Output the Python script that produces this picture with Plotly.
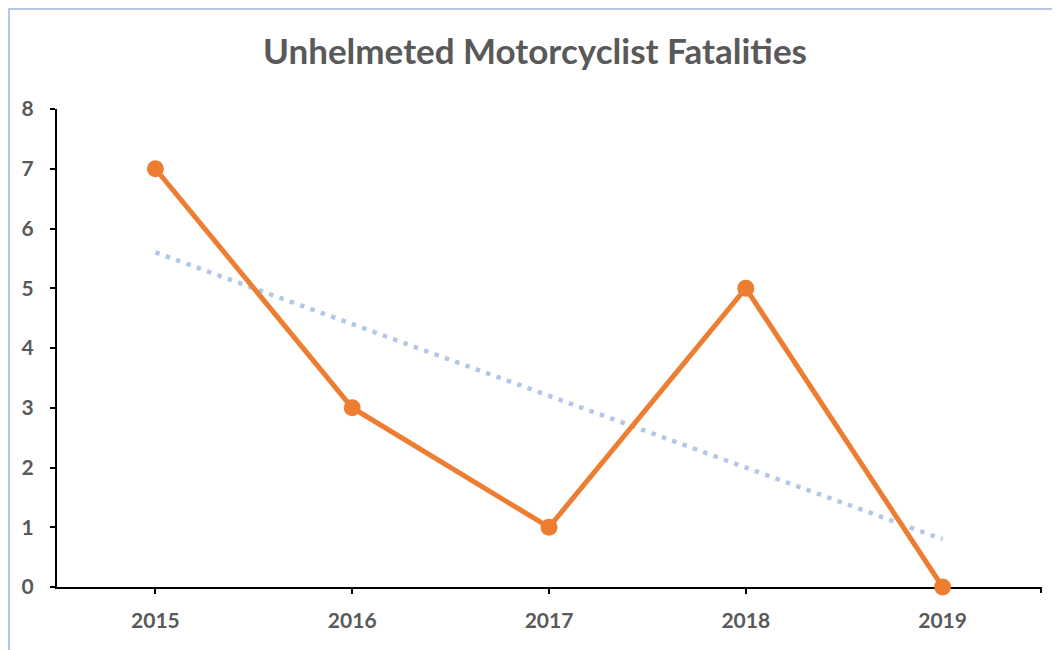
import numpy as np
import plotly.graph_objects as go

years = ["2015", "2016", "2017", "2018", "2019"]
fatalities = [7, 3, 1, 5, 0]
title_text = "Unhelmeted Motorcyclist Fatalities"

# Linear trendline (as Excel adds) computed from the series
idx = np.arange(len(years))
slope, intercept = np.polyfit(idx, fatalities, 1)
trend = (slope * idx + intercept).tolist()

ORANGE = "#ED7D31"
TREND = "#B4C7E7"
TXT = "#595959"
FONT = "Lato"

fig = go.Figure()
fig.add_trace(go.Scatter(
    x=years, y=trend, mode="lines",
    line=dict(color=TREND, width=4.5, dash="4.5px,6.5px"),
    hoverinfo="skip", showlegend=False, cliponaxis=False,
))
fig.add_trace(go.Scatter(
    x=years, y=fatalities, mode="lines+markers",
    line=dict(color=ORANGE, width=5),
    marker=dict(color=ORANGE, size=17),
    showlegend=False, cliponaxis=False,
))

W, H = 1060, 650
L, T = 49, 101
R, B = W - 1033, H - 579
pw, ph = W - L - R, H - T - B

fig.update_layout(
    width=W, height=H,
    margin=dict(l=L, r=R, t=T, b=B, pad=0),
    paper_bgcolor="white", plot_bgcolor="white",
    title=dict(text=f"<b>{title_text}</b>", x=527 / W, xanchor="center",
               y=1 - 44 / H, yanchor="middle",
               font=dict(family=FONT, size=35, color=TXT)),
    xaxis=dict(
        type="category", range=[-0.5, 4.5],
        showline=True, linecolor="black", linewidth=2,
        ticks="outside", ticklen=5, tickwidth=2, tickcolor="black",
        showgrid=False, zeroline=False, layer="below traces",
        tickfont=dict(family=FONT, size=21, color=TXT, weight="bold"),
        ticklabelstandoff=9,
    ),
    yaxis=dict(
        range=[0, 8], dtick=1,
        showline=True, linecolor="black", linewidth=2,
        ticks="outside", ticklen=5, tickwidth=2, tickcolor="black",
        showgrid=False, zeroline=False, layer="below traces",
        tickfont=dict(family=FONT, size=21, color=TXT, weight="bold"),
        ticklabelstandoff=12,
    ),
    shapes=[
        dict(
            type="rect", xref="paper", yref="paper",
            x0=(1 - L) / pw, x1=(W + 20 - L) / pw,
            y0=-(B + 20) / ph, y1=1 + (T - 1) / ph,
            line=dict(color=TREND, width=2), fillcolor="rgba(0,0,0,0)",
            layer="below",
        ),
        dict(
            type="line", xref="paper", yref="paper",
            x0=1, x1=1, y0=0, y1=-6 / ph,
            line=dict(color="black", width=2), layer="below",
        ),
    ],
)
fig.write_html("out.html")
